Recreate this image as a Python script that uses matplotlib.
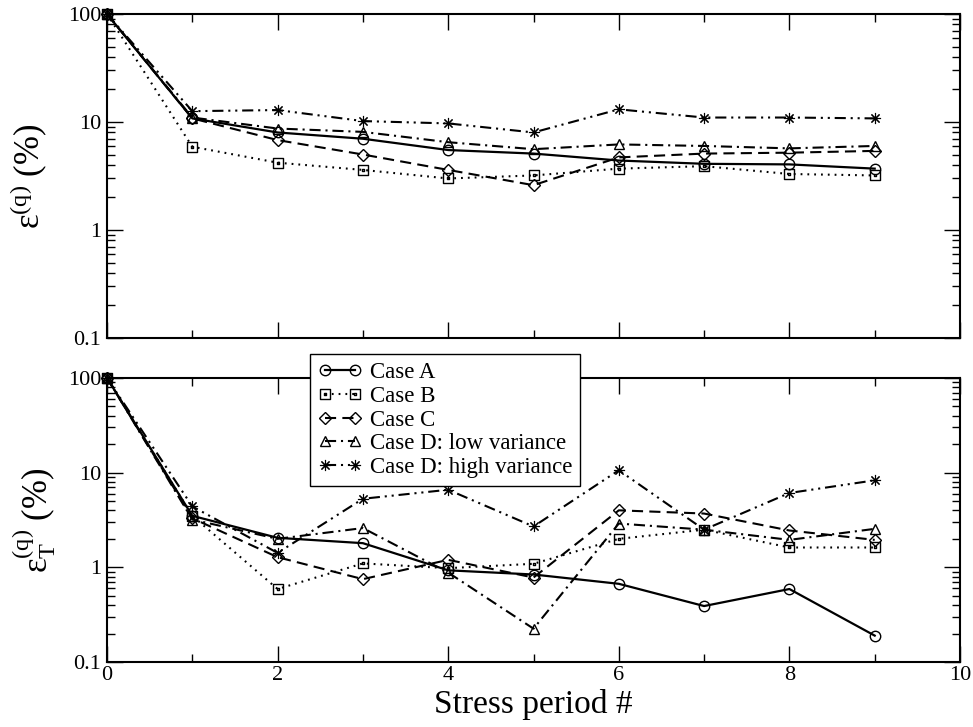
import numpy as np
import matplotlib
matplotlib.use("Agg")
import matplotlib.pyplot as plt
from matplotlib.path import Path
from matplotlib.ticker import FixedLocator, FuncFormatter, LogLocator, NullFormatter

plt.rcParams['font.family'] = ['Liberation Serif', 'DejaVu Serif']
plt.rcParams['mathtext.fontset'] = 'custom'
plt.rcParams['mathtext.rm'] = 'Liberation Serif'
plt.rcParams['mathtext.it'] = 'Liberation Serif:italic'
plt.rcParams['mathtext.bf'] = 'Liberation Serif:bold'
plt.rcParams['lines.scale_dashes'] = False

# ---------------- data ----------------
periods = [0, 1, 2, 3, 4, 5, 6, 7, 8, 9]
case_labels = ["Case A", "Case B", "Case C",
               "Case D: low variance", "Case D: high variance"]

# top panel: epsilon^(q) (%)
top_A = [100, 10.8, 8.0, 7.0, 5.5, 5.1, 4.4, 4.1, 4.05, 3.7]
top_B = [100, 5.9, 4.2, 3.6, 3.0, 3.2, 3.7, 3.9, 3.3, 3.2]
top_C = [100, 10.8, 6.8, 5.0, 3.6, 2.6, 4.7, 5.1, 5.2, 5.4]
top_Dlow = [100, 11.0, 8.7, 8.1, 6.5, 5.6, 6.2, 6.0, 5.7, 6.0]
top_Dhigh = [100, 12.6, 12.9, 10.2, 9.7, 8.0, 13.1, 11.0, 11.0, 10.8]

# bottom panel: epsilon_T^(q) (%)
bot_A = [100, 3.5, 2.05, 1.8, 0.93, 0.84, 0.67, 0.39, 0.59, 0.19]
bot_B = [100, 3.5, 0.59, 1.1, 0.98, 1.09, 2.0, 2.5, 1.62, 1.62]
bot_C = [100, 3.3, 1.28, 0.75, 1.2, 0.78, 4.0, 3.7, 2.45, 1.95]
bot_Dlow = [100, 3.2, 2.0, 2.6, 0.88, 0.225, 2.9, 2.5, 1.95, 2.55]
bot_Dhigh = [100, 4.4, 1.42, 5.3, 6.6, 2.7, 10.6, 2.5, 6.1, 8.3]

y_ticks = [0.1, 1, 10, 100]
y_tick_labels = ["0.1", "1", "10", "100"]
x_ticks = [0, 2, 4, 6, 8, 10]

# ---------------- styles ----------------
sq_verts = [(-1, -1), (1, -1), (1, 1), (-1, 1), (-1, -1),
            (-0.12, -0.12), (0.12, -0.12), (0.12, 0.12), (-0.12, 0.12), (-0.12, -0.12)]
sq_codes = [Path.MOVETO, Path.LINETO, Path.LINETO, Path.LINETO, Path.CLOSEPOLY] * 2
square_dot = Path(sq_verts, sq_codes)

styles = [
    dict(marker='o', ms=7.5, dashes=None, lw=1.6, mew=1.0),
    dict(marker=square_dot, ms=7.0, dashes=(1.3, 3.6), lw=1.5, mew=1.0),
    dict(marker='D', ms=6.2, dashes=(8, 4.5), lw=1.5, mew=1.0),
    dict(marker='^', ms=7.5, dashes=(8, 3.5, 1.5, 3.5), lw=1.5, mew=1.0),
    dict(marker=(8, 2, 0), ms=8, dashes=(8, 3.5, 1.5, 3.5, 1.5, 3.5), lw=1.5, mew=0.8),
]

fig = plt.figure(figsize=(9.73, 7.27), dpi=100)
ax1 = fig.add_axes([107 / 973, 1 - 338 / 727, 853 / 973, 324 / 727])
ax2 = fig.add_axes([107 / 973, 1 - 662 / 727, 853 / 973, 284 / 727])


def draw(ax, series):
    handles = []
    for vals, st, lab in zip(series, styles, case_labels):
        kw = dict(color='black', lw=st['lw'], marker=st['marker'], ms=st['ms'],
                  mfc='none', mec='black', mew=st['mew'], clip_on=False, label=lab)
        if st['dashes'] is None:
            h, = ax.plot(periods, vals, ls='-', **kw)
        else:
            h, = ax.plot(periods, vals, ls='--', dashes=st['dashes'], **kw)
        handles.append(h)
    ax.set_yscale('log')
    ax.set_ylim(0.1, 100)
    ax.set_xlim(0, 10)
    ax.yaxis.set_major_locator(FixedLocator(y_ticks))
    ax.yaxis.set_major_formatter(FuncFormatter(
        lambda v, p: y_tick_labels[y_ticks.index(v)] if v in y_ticks else ""))
    ax.yaxis.set_minor_locator(LogLocator(base=10, subs=np.arange(2, 10), numticks=20))
    ax.yaxis.set_minor_formatter(NullFormatter())
    ax.xaxis.set_major_locator(FixedLocator(x_ticks))
    ax.xaxis.set_minor_locator(FixedLocator([1, 3, 5, 7, 9]))
    ax.tick_params(which='both', direction='in', top=True, right=True, width=1.0,
                   labelsize=16)
    ax.tick_params(which='major', length=11.5, pad=4)
    ax.tick_params(which='minor', length=6)
    for s in ax.spines.values():
        s.set_linewidth(1.5)
    return handles


draw(ax1, [top_A, top_B, top_C, top_Dlow, top_Dhigh])
handles = draw(ax2, [bot_A, bot_B, bot_C, bot_Dlow, bot_Dhigh])

ax1.tick_params(labelbottom=False)
ax2.tick_params(axis='x', pad=3)

ax1.set_ylabel(r'$\mathrm{ε}^{\mathrm{(q)}}$ (%)', fontsize=25)
ax1.yaxis.set_label_coords(-0.068, 0.5)
ax2.set_ylabel(r'$\mathrm{ε}_{\mathrm{T}}^{\mathrm{(q)}}$ (%)', fontsize=25)
ax2.yaxis.set_label_coords(-0.058, 0.5)
ax2.set_xlabel('Stress period #', fontsize=24)
ax2.xaxis.set_label_coords(0.5, -0.095)

leg = ax2.legend(handles=handles, loc='upper left',
                 bbox_to_anchor=(310 / 973, 1 - 354 / 727),
                 bbox_transform=fig.transFigure, numpoints=2,
                 fontsize=16.5, frameon=True, fancybox=False, framealpha=1,
                 edgecolor='black', borderpad=0.35, labelspacing=0.12,
                 handlelength=1.9, handletextpad=0.35, borderaxespad=0)
leg.get_frame().set_linewidth(1.0)

fig.savefig('out.png', dpi=100)
